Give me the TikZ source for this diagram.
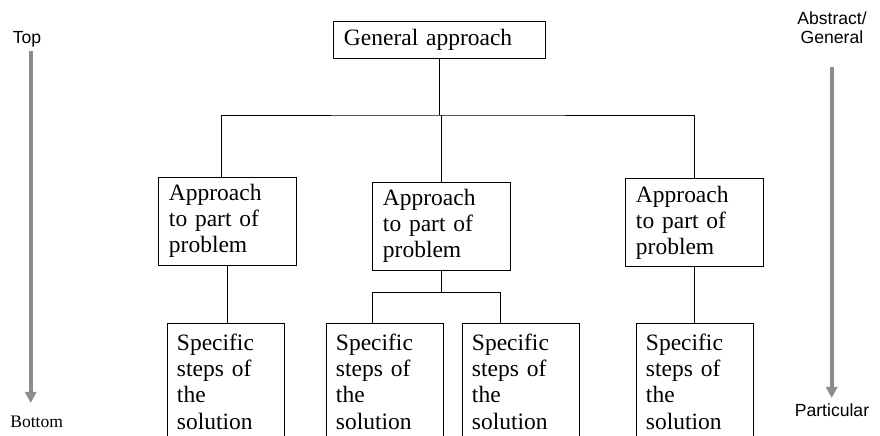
\documentclass[tikz,border=0pt]{standalone}
\usepackage{fontspec}
\setmainfont{Liberation Serif}
\setsansfont{Liberation Sans}
\usetikzlibrary{arrows.meta,calc}

\begin{document}
\begin{tikzpicture}[x=0.025cm,y=-0.025cm,
     box/.style={draw,line width=0.6pt,rectangle,align=left,
        font=\fontsize{16.7}{18.5}\selectfont},
     topbox/.style={box,text width=4.75cm,inner xsep=0.275cm,
        minimum height=0.925cm,anchor=north},
     partbox/.style={box,text width=2.9cm,inner xsep=0.275cm,minimum height=2.2cm},
     stepbox/.style={box,text width=2.425cm,inner xsep=0.25cm,inner ysep=0.275cm,
        text depth=4cm,anchor=north},
     tag/.style={font=\fontsize{12.5}{14.2}\selectfont,align=center,inner sep=0pt},
     axis/.style={line width=2.6pt,draw=gray!90,-{Triangle[width=8pt,length=8pt]}}
     ]
   \clip (0,0) rectangle (880,435);

   % the tree of boxes
   \node[topbox] (gen) at (439,21) {General approach};
   \node[partbox] (part1) at (227,221) {Approach\\to part of\\problem};
   \node[partbox] (part2) at (441,226) {Approach\\to part of\\problem};
   \node[partbox] (part3) at (694,222.5) {Approach\\to part of\\problem};

   \foreach \n/\x in {1/225.5, 2/384.5, 3/520.5, 4/694.5}
   {
     \node[stepbox] (step\n) at (\x,323) {Specific\\steps of\\the\\solution};
   }

   \coordinate (bus) at (439,115);
   \coordinate (split) at (441,292.7);

   \draw (gen) -- (bus);
   \draw ($(part1.north)+(-5.3,0)$) |- (bus) -- (bus -| part3.north) -- (part3.north);
   \draw (part2.north) -- (part2.north |- bus);
   \draw (part1.south) -- (part1.south |- step1.north);
   \draw (part3.south) -- (part3.south |- step4.north);
   \draw (part2.south) -- (split);
   \draw ($(step2.north)+(-12.5,0)$) |- (split) -| ($(step3.north)+(-20.5,0)$);

   % the two side scales
   \node[tag,anchor=base] (top) at (27,43.3) {\sffamily Top};
   \node[tag,anchor=base] (bottom) at (36.7,427) {Bottom};
   \coordinate (topend) at (30.7,51);
   \coordinate (botend) at (30.7,403);
   \draw[axis] (topend) -- (botend);

   \node[tag,anchor=north] (abstract) at (832,11) {\sffamily Abstract/\\\sffamily General};
   \node[tag,anchor=base] (particular) at (832,416) {\sffamily Particular};
   \coordinate (absend) at (831.7,66.7);
   \coordinate (parend) at (831.7,398);
   \draw[axis] (absend) -- (parend);
\end{tikzpicture}
\end{document}
